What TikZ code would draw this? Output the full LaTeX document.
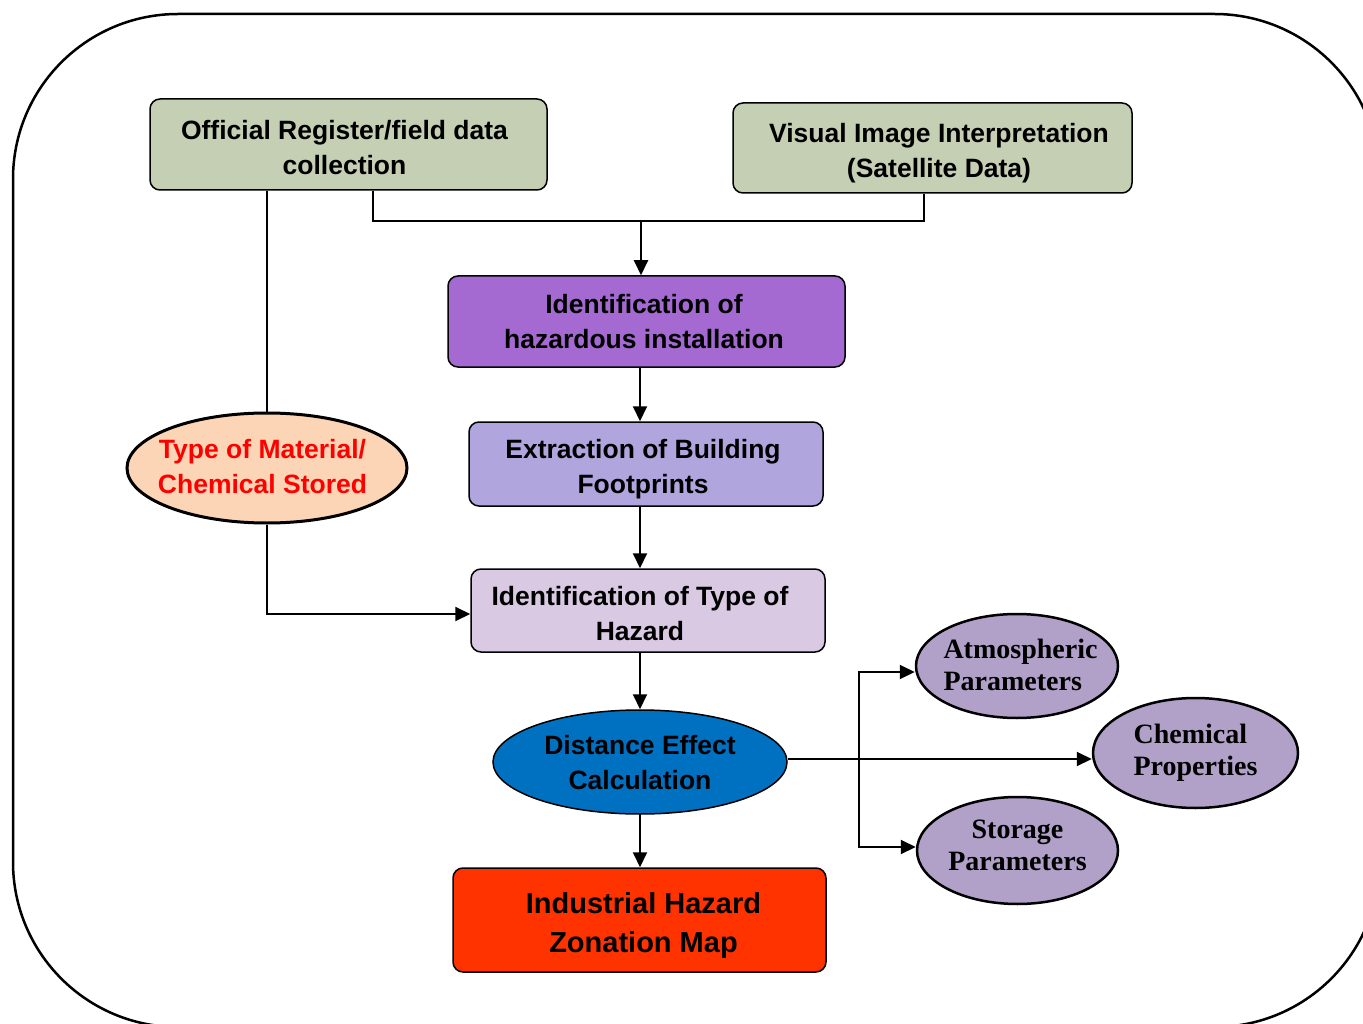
\documentclass[tikz,border=0pt]{standalone}
\usepackage{fontspec}
\setmainfont{Liberation Sans}
\newfontfamily\serifbf{Liberation Serif}
\usetikzlibrary{arrows.meta,shapes.geometric}
\definecolor{sage}{HTML}{C4CFB4}
\definecolor{violetA}{HTML}{A46AD2}
\definecolor{lavB}{HTML}{B0A6DD}
\definecolor{lilacC}{HTML}{D9C9E3}
\definecolor{peach}{HTML}{FBD5B5}
\definecolor{blueD}{HTML}{0070C0}
\definecolor{redE}{HTML}{FF3300}
\definecolor{mauve}{HTML}{B1A1C8}
% #1 doubled horizontal shift, #2 vertical raise, #3 column align, #4 lines
\newcommand\mltext[4]{\makebox[0pt]{\raisebox{#2}[\height][\depth]{\hspace*{#1}\begin{tabular}{@{}#3@{}}#4\end{tabular}}}}
\begin{document}
\begin{tikzpicture}[x=1pt,y=-1pt,
  box/.style={draw, line width=1.5pt, rounded corners=10pt, inner sep=0pt,
    font=\fontsize{26.5}{35}\selectfont\bfseries},
  oval/.style={draw, ellipse, inner sep=0pt, font=\fontsize{26.5}{35}\selectfont\bfseries},
  soval/.style={draw, ellipse, inner sep=0pt, line width=2.5pt, fill=mauve,
    font=\fontsize{28}{32}\selectfont\serifbf\bfseries},
  conn/.style={line width=2pt},
  arr/.style={line width=2pt, -{Triangle[length=15pt,width=14pt]}}
]
\useasboundingbox (0,0) rectangle (1363,1024);
\draw[line width=2.5pt, rounded corners=165pt] (13,14) rectangle (1379.5,1027);

\node[box, fill=sage, minimum width=397pt, minimum height=91pt] (off) at (348.5,144.5)
  {\mltext{-8pt}{-5.5pt}{c}{Official Register/field data\\collection}};
\node[box, fill=sage, minimum width=399pt, minimum height=90pt] (vis) at (932.5,148)
  {\mltext{13pt}{-5pt}{c}{Visual Image Interpretation\\(Satellite Data)}};
\node[box, fill=violetA, minimum width=397pt, minimum height=91pt] (ident) at (646.5,321.5)
  {\mltext{-5pt}{-3pt}{c}{Identification of\\hazardous installation}};
\node[box, fill=lavB, minimum width=354pt, minimum height=84pt] (ext) at (646,464)
  {\mltext{-6pt}{-5pt}{c}{Extraction of Building\\Footprints}};
\node[box, fill=lilacC, minimum width=354pt, minimum height=83pt] (haz) at (648,610.5)
  {\mltext{-16pt}{-5pt}{c}{Identification of Type of\\Hazard}};
\node[box, fill=redE, minimum width=373pt, minimum height=104pt,
  font=\fontsize{29}{39}\selectfont\bfseries] (ind) at (639.5,920)
  {\mltext{8pt}{-5pt}{c}{Industrial Hazard\\Zonation Map}};

\node[oval, fill=peach, line width=3pt, text=red, minimum width=280pt, minimum height=110pt] (type) at (267,468)
  {\mltext{-9pt}{-1pt}{c}{Type of Material/\\Chemical Stored}};
\node[oval, fill=blueD, line width=1.5pt, minimum width=294pt, minimum height=104pt] (dist) at (640,762)
  {\mltext{0pt}{-3pt}{c}{Distance Effect\\Calculation}};

\node[soval, minimum width=202pt, minimum height=104pt] (atm) at (1017,666)
  {\mltext{7pt}{-2pt}{l}{Atmospheric\\Parameters}};
\node[soval, minimum width=205pt, minimum height=110pt] (chem) at (1195.5,753)
  {\mltext{0pt}{0pt}{l}{Chemical\\Properties}};
\node[soval, minimum width=201pt, minimum height=107pt] (sto) at (1017.5,850.5)
  {\mltext{0pt}{2pt}{c}{Storage\\Parameters}};

\coordinate (j) at (641,221);
\coordinate (b) at (859,759);

\draw[conn] ([xshift=24.5pt]off.south) |- (j) -| ([xshift=-8.5pt]vis.south);
\draw[arr] (j) -- (j |- ident.north);
\draw[conn] (type.north |- off.south) -- (type.north);
\draw[arr] (ident.south -| 640,0) -- (ext.north -| 640,0);
\draw[arr] (ext.south -| 640,0) -- (haz.north -| 640,0);
\draw[arr] (type.south) |- ([yshift=-3.5pt]haz.west);
\draw[arr] (dist.north |- haz.south) -- (dist.north);
\draw[arr] (dist.south) -- (dist.south |- ind.north);
\draw[arr] ([yshift=3pt]dist.east) -- (b) -- (b -| chem.west);
\draw[arr] (b) |- ([yshift=-6pt]atm.west);
\draw[arr] (b) |- ([yshift=3.5pt]sto.west);
\end{tikzpicture}
\end{document}
